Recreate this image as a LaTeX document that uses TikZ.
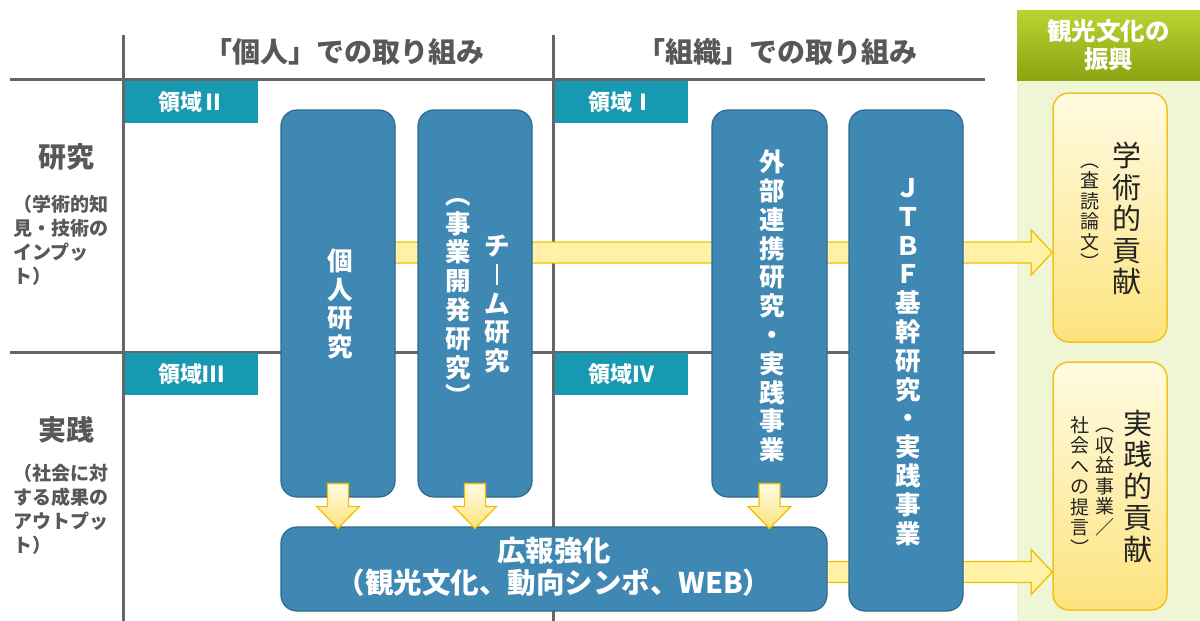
\documentclass[tikz,border=0pt]{standalone}
\usepackage{fontspec}
\newfontfamily\jp{Noto Sans CJK JP}
\usetikzlibrary{calc}
\definecolor{bluef}{HTML}{3F88B3}
\definecolor{bluedk}{HTML}{2C6A8E}
\definecolor{tealc}{HTML}{1799B1}
\definecolor{gline}{HTML}{666666}
\definecolor{gtext}{HTML}{585858}
\definecolor{panelg}{HTML}{EEF6D6}
\definecolor{hdtop}{HTML}{B9D431}
\definecolor{hdbot}{HTML}{8BA513}
\definecolor{ytop}{HTML}{FFFBE3}
\definecolor{ybot}{HTML}{FDE37D}
\definecolor{ydraw}{HTML}{F4C21C}
\definecolor{afill}{HTML}{FFF2A8}
\definecolor{adraw}{HTML}{F2C000}
\definecolor{ktext}{HTML}{222222}
\tikzset{
 gridline/.style={draw=gline, line width=3pt},
 hdtext/.style={font=\jp\bfseries\fontsize{28}{32}\selectfont, text=gtext, inner sep=0},
 ryo/.style={fill=tealc, text=white, font=\jp\bfseries\fontsize{22}{24}\selectfont, minimum width=133pt, minimum height=42pt, inner sep=0, anchor=north west},
 bluebox/.style={draw=bluedk, fill=bluef, line width=1.2pt, rounded corners=16pt, inner sep=0},
 wtext/.style={text=white, font=\jp\bfseries\fontsize{25.5}{28.8}\selectfont, align=center, inner sep=0},
 ybox/.style={draw=ydraw, line width=1.5pt, rounded corners=16pt, top color=ytop, bottom color=ybot, minimum width=114pt, inner sep=0},
 ybig/.style={text=ktext, font=\jp\fontsize{29}{31.5}\selectfont, align=center, inner sep=0},
 ysmall/.style={text=ktext, font=\jp\fontsize{19}{20.5}\selectfont, align=center, inner sep=0},
 yarrow/.style={draw=adraw, line width=1.3pt, fill=afill, line join=miter},
 darrow/.style={draw=adraw, line width=1.3pt, top color=ytop, bottom color=ybot, line join=miter},
 lbl/.style={font=\jp\bfseries\fontsize{28}{30}\selectfont, text=gtext, inner sep=0},
 sublbl/.style={font=\jp\bfseries\fontsize{19}{24}\selectfont, text=gtext, inner sep=0, align=left, anchor=north west},
 header/.style={top color=hdtop, bottom color=hdbot, text=white, font=\jp\bfseries\fontsize{24.5}{28}\selectfont, align=center, minimum width=183pt, minimum height=70pt, inner sep=0},
}
\begin{document}
\begin{tikzpicture}[x=1pt,y=-1pt]
\useasboundingbox (0,0) rectangle (1200,621);
\fill[white] (0,0) rectangle (1200,621);
% right panel
\fill[panelg] (1017,80) rectangle (1200,621);
\node[header] (hdr) at (1108.5,45) {観光文化の\\振興};
% grid lines
\draw[gridline] (10,79) -- (985,79);
\draw[gridline] (10,352) -- (995,352);
\draw[gridline] (123,35) -- (123,621);
\draw[gridline] (553,35) -- (553,621);
% column headers
\node[hdtext] (h1) at (344,52) {「個人」での取り組み};
\node[hdtext] (h2) at (777,52) {「組織」での取り組み};
% row labels
\node[lbl] (kenkyu) at (66,157) {研究};
\node[sublbl] (kenkyuS) at (13,195) {（学術的知\\見・技術の\\インプッ\\ト）};
\node[lbl] (jissen) at (66,430) {実践};
\node[sublbl] (jissenS) at (13,464) {（社会に対\\する成果の\\アウトプッ\\ト）};
% area labels
\node[ryo] (r2) at (125,81) {領域Ⅱ};
\node[ryo] (r1) at (555,81) {領域Ⅰ};
\node[ryo] (r3) at (125,353) {領域Ⅲ};
\node[ryo] (r4) at (555,353) {領域Ⅳ};
% yellow output boxes
\node[ybox, minimum height=249pt] (gaku) at (1110,217.5) {};
\node[ybox, minimum height=248pt] (jiss) at (1110,486) {};
% blue box centres
\path (338,303.5) coordinate (ckojin) (475,303.5) coordinate (cteam);
% horizontal arrows (behind blue boxes)
\coordinate (row1) at (0,252.5);
\coordinate (row2) at (0,572);
\path (ckojin |- row1) coordinate (s1) (gaku.west |- row1) coordinate (t1);
\path (700,572) coordinate (s2) (jiss.west |- row2) coordinate (t2);
\draw[yarrow] ($(s1)+(0,-10.5)$) -- ($(t1)+(-21,-10.5)$) -- ($(t1)+(-21,-22.5)$) -- (t1) -- ($(t1)+(-21,22.5)$) -- ($(t1)+(-21,10.5)$) -- ($(s1)+(0,10.5)$) -- cycle;
\draw[yarrow] ($(s2)+(0,-10.5)$) -- ($(t2)+(-21,-10.5)$) -- ($(t2)+(-21,-22.5)$) -- (t2) -- ($(t2)+(-21,22.5)$) -- ($(t2)+(-21,10.5)$) -- ($(s2)+(0,10.5)$) -- cycle;
% blue boxes
\node[bluebox, minimum width=114pt, minimum height=387pt] (kojin) at (ckojin) {};
\node[bluebox, minimum width=114pt, minimum height=387pt] (team) at (cteam) {};
\node[bluebox, minimum width=115pt, minimum height=387pt] (gaibu) at (769.5,303.5) {};
\node[bluebox, minimum width=114pt, minimum height=501pt] (jtbf) at (906,360.5) {};
\node[bluebox, minimum width=546pt, minimum height=84pt] (koho) at (554,569) {};
% down arrows
\foreach \b in {kojin,team,gaibu}{
  \path ($(\b.south)+(0,-14)$) coordinate (dt) ($(\b.south |- koho.north)+(0,2)$) coordinate (dp);
  \draw[darrow] ($(dt)+(-10.5,0)$) -- ($(dp)+(-10.5,-22)$) -- ($(dp)+(-21.5,-22)$) -- (dp) -- ($(dp)+(21.5,-22)$) -- ($(dp)+(10.5,-22)$) -- ($(dt)+(10.5,0)$) -- cycle;
}
% texts in blue boxes
\node[wtext] (kojinT) at (340,304) {個\\人\\研\\究};
\node[wtext] (teamA) at (497,304) {チ\\\rule[-1pt]{2.8pt}{21pt}\\ム\\研\\究};
\node[wtext] (teamB) at (458,302) {︵\\事\\業\\開\\発\\研\\究\\︶};
\node[wtext] (gaibuT) at (772,306) {外\\部\\連\\携\\研\\究\\・\\実\\践\\事\\業};
\node[wtext] (jtbfT) at (908,362) {Ｊ\\Ｔ\\Ｂ\\Ｆ\\基\\幹\\研\\究\\・\\実\\践\\事\\業};
\node[wtext, font=\jp\bfseries\fontsize{28.5}{32}\selectfont] (kohoT) at (554,567) {広報強化\\（観光文化、動向シンポ、WEB）};
% texts in yellow boxes
\node[ybig] (gakuA) at (1127,218.5) {学\\術\\的\\貢\\献};
\node[ysmall] (gakuB) at (1090,216.5) {︵\\査\\読\\論\\文\\︶};
\node[ybig] (jissA) at (1138,486) {実\\践\\的\\貢\\献};
\node[ysmall] (jissB) at (1105,482) {︵\\収\\益\\事\\業\\／};
\node[ysmall] (jissC) at (1080,486) {社\\会\\へ\\の\\提\\言\\︶};
\end{tikzpicture}
\end{document}
